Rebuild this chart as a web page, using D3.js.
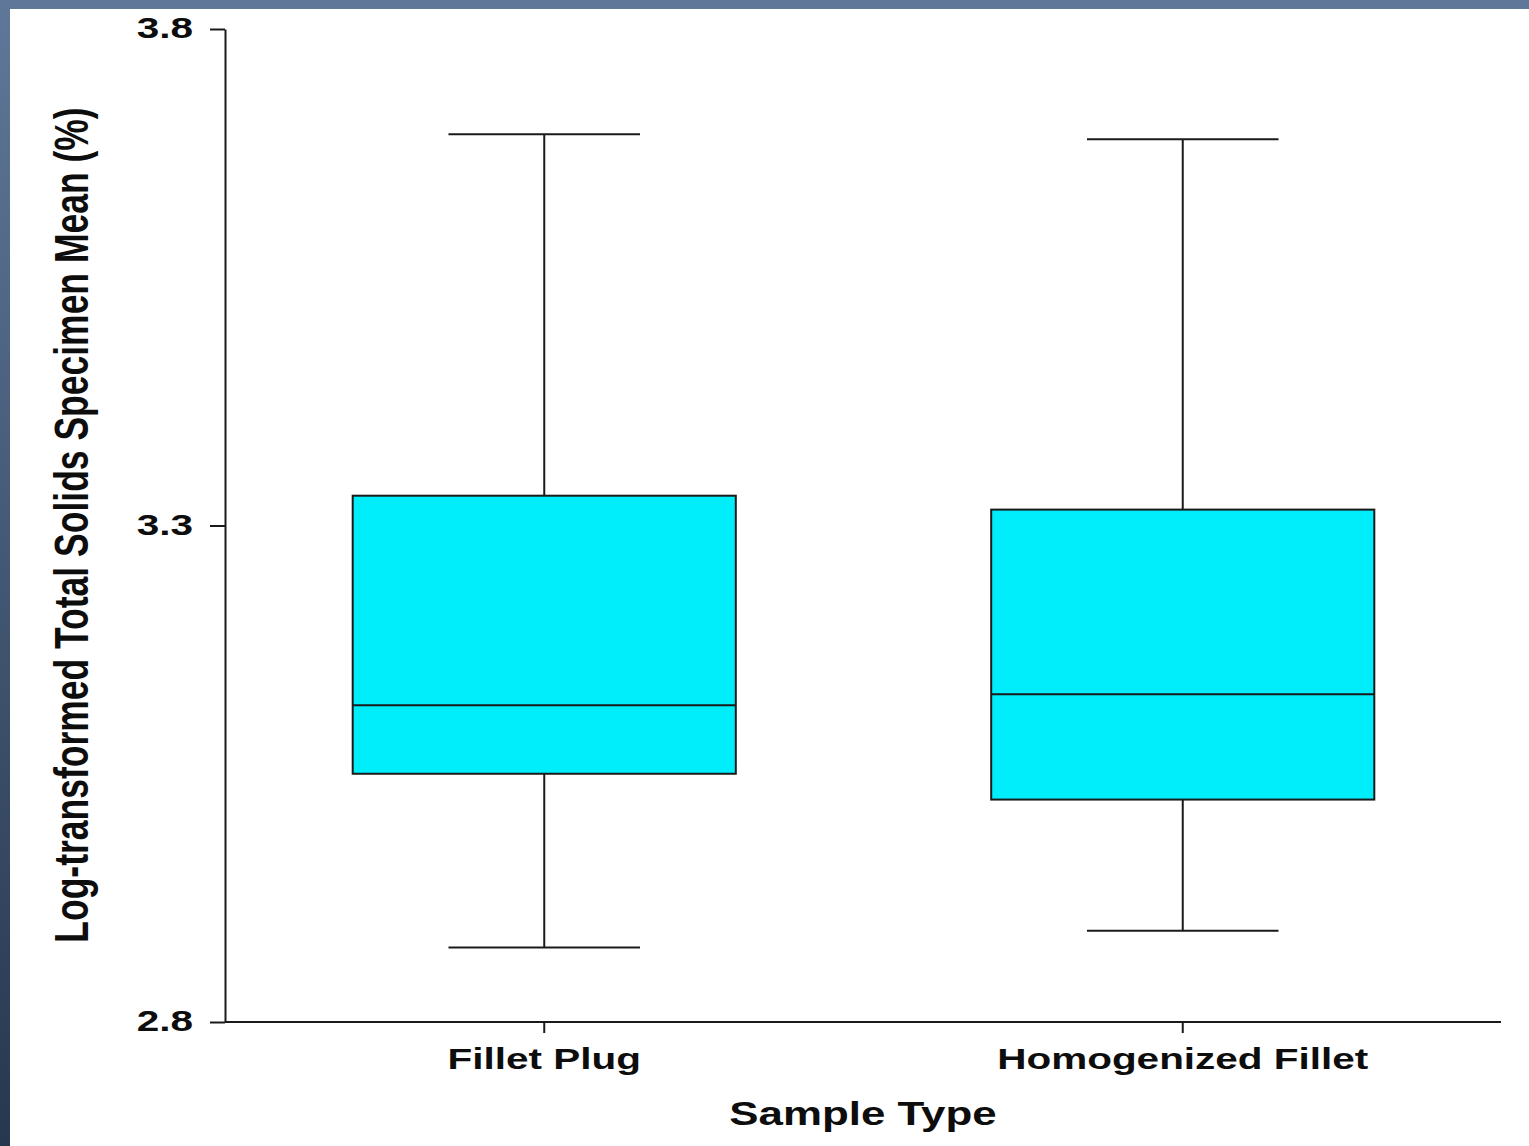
<!DOCTYPE html>
<html lang="en">
<head>
  <meta charset="UTF-8">
  <title>Total Solids Box Plot</title>
  <script src="https://d3js.org/d3.v7.min.js"></script>
  <style>
    body { margin: 0; background: #fff; }
    svg { display: block; }
    text { font-family: "Liberation Sans", Arial, sans-serif; font-weight: bold; fill: #0d0d0d; }
  </style>
</head>
<body>
  <svg width="1529" height="1146"></svg>

  <script>
    const categories = ["Fillet Plug", "Homogenized Fillet"];
    const whiskerLow  = [2.875, 2.892];
    const q1          = [3.050, 3.024];
    const median      = [3.119, 3.130];
    const q3          = [3.330, 3.316];
    const whiskerHigh = [3.694, 3.689];
    const yTicks = [2.8, 3.3, 3.8];

    const svg = d3.select("svg");
    const stretch = 1.35; // glyphs in the picture are wider than normal

    // backdrop frame
    const defs = svg.append("defs");
    const grad = defs.append("linearGradient").attr("id", "side")
      .attr("x1", 0).attr("y1", 0).attr("x2", 0).attr("y2", 1);
    grad.append("stop").attr("offset", "0%").attr("stop-color", "#5f7899");
    grad.append("stop").attr("offset", "100%").attr("stop-color", "#27374f");
    svg.append("rect").attr("x", 0).attr("y", 0).attr("width", 1529).attr("height", 1146).attr("fill", "url(#side)");
    svg.append("rect").attr("x", 0).attr("y", 0).attr("width", 1529).attr("height", 9).attr("fill", "#5f7899");
    svg.append("rect").attr("x", 10).attr("y", 9).attr("width", 1519).attr("height", 1137).attr("fill", "#fff");

    const y = d3.scaleLinear().domain([2.8, 3.8]).range([1022, 29]);
    const x = d3.scaleBand().domain(categories).range([225, 1502])
      .paddingInner(0.4).paddingOuter(0.2);

    const ink = "#1a1a1a";

    // y axis
    const yAxis = svg.append("g").attr("transform", "translate(225,0)")
      .call(d3.axisLeft(y).tickValues(yTicks).tickSize(15).tickSizeOuter(0).tickFormat(d3.format(".1f")));
    yAxis.select(".domain").attr("stroke", ink).attr("stroke-width", 2);
    yAxis.selectAll(".tick line").attr("stroke", ink).attr("stroke-width", 2);
    yAxis.selectAll(".tick text")
      .attr("x", null).attr("dy", null).attr("y", 8.5)
      .attr("text-anchor", "end")
      .attr("font-size", 30)
      .attr("transform", `translate(-32,0) scale(${stretch},1)`);

    // x axis
    const xAxis = svg.append("g").attr("transform", "translate(0,1022)")
      .call(d3.axisBottom(x).tickSize(11).tickSizeOuter(0));
    xAxis.select(".domain").attr("d", "M225,0H1501").attr("stroke", ink).attr("stroke-width", 2);
    xAxis.selectAll(".tick line").attr("stroke", ink).attr("stroke-width", 2);
    xAxis.selectAll(".tick text")
      .attr("y", null).attr("dy", null)
      .attr("text-anchor", "middle")
      .attr("font-size", 30)
      .attr("transform", `translate(0,47) scale(${stretch},1)`);

    // axis titles
    svg.append("text")
      .attr("text-anchor", "middle")
      .attr("font-size", 32.5)
      .attr("transform", `translate(863,1125) scale(${stretch},1)`)
      .text("Sample Type");

    svg.append("text")
      .attr("text-anchor", "middle")
      .attr("font-size", 35.5)
      .attr("transform", `translate(88,525) rotate(-90) scale(1,${stretch})`)
      .text("Log-transformed Total Solids Specimen Mean (%)");

    // boxes
    const boxes = svg.append("g").selectAll("g")
      .data(categories).enter().append("g");

    const bw = x.bandwidth();
    const cx = (d) => x(d) + bw / 2;

    boxes.append("line")
      .attr("x1", cx).attr("x2", cx)
      .attr("y1", (d, i) => y(whiskerHigh[i]))
      .attr("y2", (d, i) => y(whiskerLow[i]))
      .attr("stroke", ink).attr("stroke-width", 2);

    boxes.append("line")
      .attr("x1", d => cx(d) - bw / 4).attr("x2", d => cx(d) + bw / 4)
      .attr("y1", (d, i) => y(whiskerHigh[i])).attr("y2", (d, i) => y(whiskerHigh[i]))
      .attr("stroke", ink).attr("stroke-width", 2);

    boxes.append("line")
      .attr("x1", d => cx(d) - bw / 4).attr("x2", d => cx(d) + bw / 4)
      .attr("y1", (d, i) => y(whiskerLow[i])).attr("y2", (d, i) => y(whiskerLow[i]))
      .attr("stroke", ink).attr("stroke-width", 2);

    boxes.append("rect")
      .attr("x", d => x(d))
      .attr("width", bw)
      .attr("y", (d, i) => y(q3[i]))
      .attr("height", (d, i) => y(q1[i]) - y(q3[i]))
      .attr("fill", "#00edfb")
      .attr("stroke", ink).attr("stroke-width", 2);

    boxes.append("line")
      .attr("x1", d => x(d)).attr("x2", d => x(d) + bw)
      .attr("y1", (d, i) => y(median[i])).attr("y2", (d, i) => y(median[i]))
      .attr("stroke", ink).attr("stroke-width", 2);
  </script>
</body>
</html>
